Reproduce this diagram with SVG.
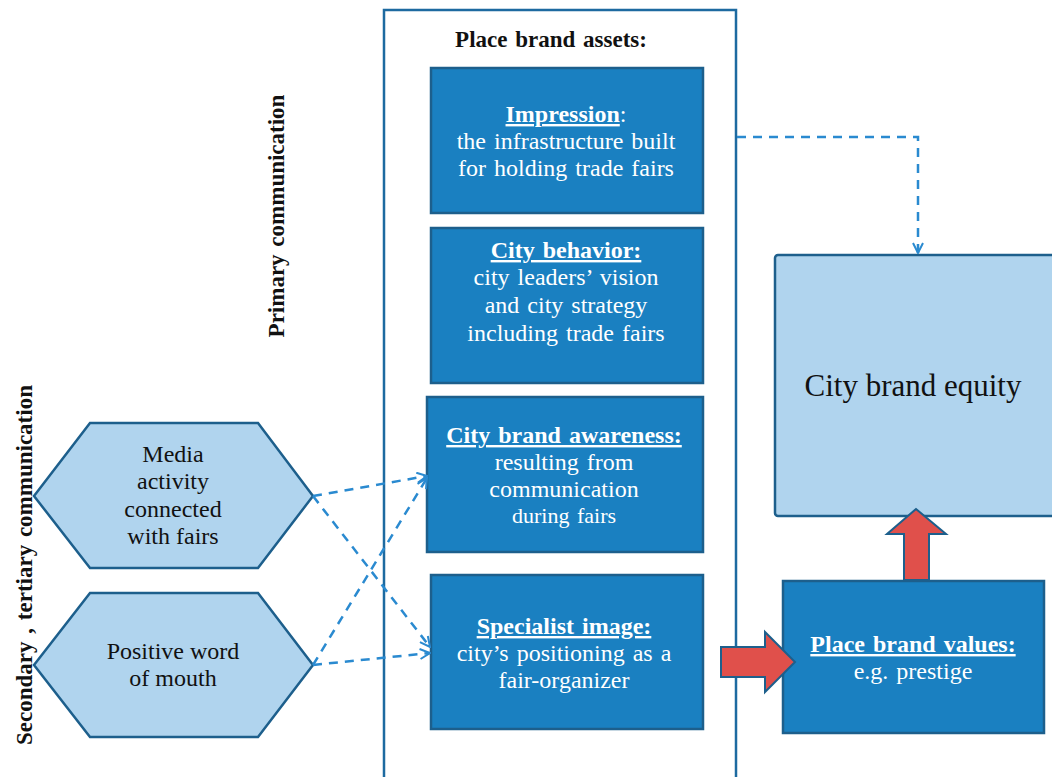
<svg xmlns="http://www.w3.org/2000/svg" width="1052" height="777" viewBox="0 0 1052 777">
<defs>
<style>
.dark{fill:#1a80c1;stroke:#1d5f8c;stroke-width:2.5}
.light{fill:#b0d4ee;stroke:#1d5f8c;stroke-width:2.5}
.red{fill:#e0504b;stroke:#1d5f8c;stroke-width:2}
text{font-family:'Liberation Serif','Times New Roman','DejaVu Serif',serif}
.wt{font-size:24px;fill:#ffffff;text-anchor:middle;word-spacing:2px}
.bt{font-size:24px;fill:#111111;text-anchor:middle}
.b{font-weight:bold;text-decoration:underline}
.lbl{font-size:23px;font-weight:bold;fill:#111111;text-anchor:middle;word-spacing:2px}
.dash{fill:none;stroke:#2a8ad0;stroke-width:2.5;stroke-dasharray:9,7}
</style>
<marker id="ah" viewBox="0 0 12 12" refX="11" refY="6" markerWidth="12" markerHeight="12" markerUnits="userSpaceOnUse" orient="auto">
<path d="M1,1 L11,6 L1,11" fill="none" stroke="#2a8ad0" stroke-width="2"/>
</marker>
</defs>
<rect width="1052" height="777" fill="#ffffff"/>

<g id="container">
<rect x="384" y="10" width="352" height="770" fill="none" stroke="#1d6aa0" stroke-width="2.5"/>
<text class="lbl" x="551" y="47">Place brand  assets:</text>
</g>

<g id="label-primary">
<text class="lbl" transform="translate(284,216) rotate(-90)">Primary  communication</text>
</g>
<g id="label-secondary">
<text class="lbl" transform="translate(32,565) rotate(-90)">Secondary , tertiary  communication</text>
</g>

<g id="impression">
<rect class="dark" x="431" y="68" width="272" height="145"/>
<text class="wt" x="566" y="122"><tspan class="b">Impression</tspan>:</text>
<text class="wt" x="566" y="149">the infrastructure built</text>
<text class="wt" x="566" y="176">for holding trade fairs</text>
</g>

<g id="city-behavior">
<rect class="dark" x="431" y="228" width="272" height="155"/>
<text class="wt" x="566" y="258"><tspan class="b">City behavior:</tspan></text>
<text class="wt" x="566" y="285">city leaders’ vision</text>
<text class="wt" x="566" y="313">and city strategy</text>
<text class="wt" x="566" y="341">including trade fairs</text>
</g>

<g id="awareness">
<rect class="dark" x="427" y="397" width="276" height="155"/>
<text class="wt" x="564" y="443"><tspan class="b">City brand  awareness:</tspan></text>
<text class="wt" x="564" y="470">resulting from</text>
<text class="wt" x="564" y="497">communication</text>
<text class="wt" x="564" y="523" style="font-size:22px">during fairs</text>
</g>

<g id="specialist">
<rect class="dark" x="431" y="575" width="272" height="154"/>
<text class="wt" x="564" y="634"><tspan class="b">Specialist  image:</tspan></text>
<text class="wt" x="564" y="661">city’s positioning as a</text>
<text class="wt" x="564" y="688">fair-organizer</text>
</g>

<g id="equity">
<rect class="light" x="775" y="255" width="280" height="261" rx="3"/>
<text class="bt" x="913" y="396" style="font-size:31px">City brand equity</text>
</g>

<g id="values">
<rect class="dark" x="783" y="581" width="261" height="152"/>
<text class="wt" x="913" y="652"><tspan class="b">Place brand  values:</tspan></text>
<text class="wt" x="913" y="679">e.g. prestige</text>
</g>

<g id="media">
<polygon class="light" points="34,496 90,423 258,423 313,496 258,568 90,568"/>
<text class="bt" x="173" y="462">Media</text>
<text class="bt" x="173" y="489">activity</text>
<text class="bt" x="173" y="517">connected</text>
<text class="bt" x="173" y="544">with fairs</text>
</g>

<g id="word-of-mouth">
<polygon class="light" points="34,665 90,593 258,593 313,665 258,737 90,737"/>
<text class="bt" x="173" y="659">Positive word</text>
<text class="bt" x="173" y="686">of mouth</text>
</g>

<g id="connectors">
<path class="dash" d="M737,137 L918,137 L918,253" marker-end="url(#ah)"/>
<path class="dash" d="M313,496 L427,476" marker-end="url(#ah)"/>
<path class="dash" d="M313,496 L430,647" marker-end="url(#ah)"/>
<path class="dash" d="M313,665 L427,478" marker-end="url(#ah)"/>
<path class="dash" d="M313,665 L430,653" marker-end="url(#ah)"/>
<polygon class="red" points="721,647 765,647 765,632 795,662 765,692 765,677 721,677"/>
<polygon class="red" points="904,580 904,534 887,534 916,509 946,534 929,534 929,580"/>
</g>
</svg>
